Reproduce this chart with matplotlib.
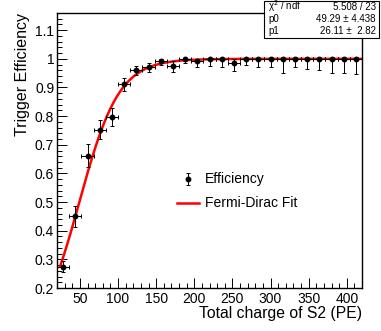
import matplotlib
matplotlib.use("Agg")
import matplotlib.pyplot as plt
import numpy as np
from matplotlib.patches import Rectangle

plt.rcParams['font.family'] = ['Liberation Sans', 'DejaVu Sans']

# data: bin centres (16 PE wide bins), efficiency and asymmetric errors
charge = np.arange(28, 420, 16)
eff = [0.275, 0.450, 0.662, 0.753, 0.796, 0.911, 0.961, 0.971, 0.992, 0.975,
       1.0, 0.992, 0.999, 1.0, 0.987, 1.0, 1.0, 1.0, 1.0, 1.0,
       1.0, 1.0, 1.0, 1.0, 1.0]
err_lo = [0.018, 0.038, 0.040, 0.033, 0.032, 0.025, 0.019, 0.016, 0.014, 0.022,
          0.015, 0.020, 0.023, 0.029, 0.031, 0.020, 0.029, 0.030, 0.049, 0.030,
          0.034, 0.040, 0.050, 0.050, 0.052]
err_hi = [0.018, 0.038, 0.040, 0.033, 0.032, 0.022, 0.015, 0.013, 0.007, 0.018,
          0.0, 0.008, 0.001, 0.0, 0.013, 0.0, 0.0, 0.0, 0.0, 0.0,
          0.0, 0.0, 0.0, 0.0, 0.0]
half_bin = 8

# Fermi-Dirac fit parameters
p0 = 49.29
p1 = 26.11

fig = plt.figure(figsize=(3.81, 3.31), dpi=100)
ax = fig.add_axes([57/381, 43/331, 305/381, 275/331])

ax.errorbar(charge, eff, yerr=[err_lo, err_hi], xerr=half_bin, fmt='o',
            color='black', ms=3.2, elinewidth=0.7, capsize=1.5, capthick=0.7,
            zorder=3)

xf = np.linspace(24, 420, 400)
ax.plot(xf, 1.0/(1.0 + np.exp((p0 - xf)/p1)), color='red', lw=1.8, zorder=2)

ax.set_xlim(20, 420)
ax.set_ylim(0.2, 1.16)
ax.set_xticks(np.arange(50, 401, 50))
ax.set_xticks(np.arange(30, 420, 10), minor=True)
yt = [0.2, 0.3, 0.4, 0.5, 0.6, 0.7, 0.8, 0.9, 1.0, 1.1]
ax.set_yticks(yt)
ax.set_yticklabels(['0.2', '0.3', '0.4', '0.5', '0.6', '0.7', '0.8', '0.9', '1', '1.1'])
ax.set_yticks(np.arange(0.2, 1.161, 0.02), minor=True)
ax.tick_params(which='both', direction='in', labelsize=10)
ax.tick_params(which='major', length=7, width=0.7)
ax.tick_params(which='minor', length=3.5, width=0.7)
ax.tick_params(axis='x', pad=3)
ax.tick_params(axis='y', pad=2)
for s in ax.spines.values():
    s.set_linewidth(1.0)

ax.text(1.0, -0.093, 'Total charge of S2 (PE)', transform=ax.transAxes,
        ha='right', va='center', fontsize=11.3)
ax.text(-0.113, 1.0, 'Trigger Efficiency', transform=ax.transAxes,
        ha='center', va='top', rotation=90, fontsize=11.5)

# legend drawn by hand in ROOT style
ax.errorbar([192], [0.580], yerr=[[0.02], [0.02]], fmt='o', color='black',
            ms=3.2, elinewidth=0.7, capsize=1.5, capthick=0.7)
ax.plot([177, 206], [0.497, 0.497], color='red', lw=1.8)
ax.text(214, 0.580, 'Efficiency', ha='left', va='center', fontsize=10)
ax.text(214, 0.497, 'Fermi-Dirac Fit', ha='left', va='center', fontsize=10)

# stats box
fig.patches.append(Rectangle((264/381, 1 - 38/331), 115/381, 38/331 - 0.002,
                             transform=fig.transFigure, facecolor='white',
                             edgecolor='black', lw=0.8, zorder=5))
rows = [('χ$^{2}$ / ndf', '5.508 / 23'), ('p0', '49.29 ± 4.438'), ('p1', '26.11 ±  2.82')]
for i, (a, b) in enumerate(rows):
    yy = 1 - (6.5 + 12*i)/331
    fig.text(268/381, yy, a, ha='left', va='center', fontsize=7, zorder=6)
    fig.text(376/381, yy, b, ha='right', va='center', fontsize=7, zorder=6)

fig.savefig('out.png', dpi=100)
